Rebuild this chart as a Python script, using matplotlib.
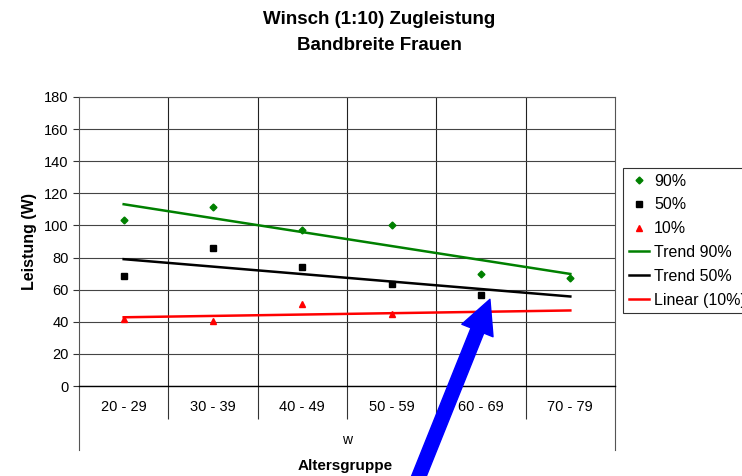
import numpy as np
import matplotlib.pyplot as plt

plt.rcParams['font.family'] = ['Liberation Sans', 'DejaVu Sans']

# data
groups = ['20 - 29', '30 - 39', '40 - 49', '50 - 59', '60 - 69', '70 - 79']
p90 = [103.5, 111.5, 97, 100, 70, 67]
p50 = [68.5, 86, 74, 63.5, 56.5]
p10 = [42, 40.5, 51, 45, 44]

W, H = 742, 476
fig = plt.figure(figsize=(W / 100, H / 100), dpi=100)
ax = fig.add_axes([79 / W, 1 - 386 / H, (615 - 79) / W, (386 - 97) / H])

x_all = np.arange(1, len(groups) + 1)

def trend(vals):
    xs = np.arange(1, len(vals) + 1)
    k, d = np.polyfit(xs, vals, 1)
    return k * x_all + d

ax.plot(np.arange(1, len(p90) + 1), p90, ls='none', marker='D', ms=3.5, color='#008000', label='90%')
ax.plot(np.arange(1, len(p50) + 1), p50, ls='none', marker='s', ms=4.5, color='black', label='50%')
ax.plot(np.arange(1, len(p10) + 1), p10, ls='none', marker='^', ms=5, color='red', label='10%')
ax.plot(x_all, trend(p90), color='#008000', lw=1.8, label='Trend 90%')
ax.plot(x_all, trend(p50), color='black', lw=1.8, label='Trend 50%')
ax.plot(x_all, trend(p10), color='red', lw=1.8, label='Linear (10%)')

ax.set_xlim(0.5, len(groups) + 0.5)
ax.set_ylim(0, 180)
ax.set_yticks(np.arange(0, 181, 20))
ax.set_xticks(x_all)
ax.set_xticklabels(groups)
ax.set_xticks(np.arange(1.5, len(groups)), minor=True)
ax.tick_params(axis='x', which='major', length=0, pad=10, labelsize=10.5)
ax.tick_params(axis='x', which='minor', length=24, width=0.8, color='#333333')
ax.tick_params(axis='y', length=4, width=0.8, labelsize=10.5, color='#333333')
ax.grid(True, axis='y', color='#444444', lw=0.8)
ax.grid(True, axis='x', which='minor', color='#222222', lw=0.8)
ax.set_axisbelow(True)
for s in ['left', 'right', 'top']:
    ax.spines[s].set_color('#555555')
    ax.spines[s].set_linewidth(0.8)
ax.spines['bottom'].set_color('black')
ax.spines['bottom'].set_linewidth(1.0)

# outer borders of the category table
ext = 64 / 289
for xa in (0, 1):
    ax.plot([xa, xa], [0, -ext], transform=ax.transAxes, color='#555555', lw=0.8, clip_on=False)

ax.set_ylabel('Leistung (W)', fontsize=11.5, fontweight='bold', labelpad=5)
fig.text(347 / W, 1 - 440 / H, 'w', ha='center', va='center', fontsize=10)
fig.text(345 / W, 1 - 466 / H, 'Altersgruppe', ha='center', va='center', fontsize=11, fontweight='bold')
fig.text(379 / W, 1 - 20 / H, 'Winsch (1:10) Zugleistung', ha='center', va='center', fontsize=13.5, fontweight='bold')
fig.text(379 / W, 1 - 46 / H, 'Bandbreite Frauen', ha='center', va='center', fontsize=13.5, fontweight='bold')

leg = ax.legend(loc='upper left', bbox_to_anchor=(623 / W, 1 - 168 / H), bbox_transform=fig.transFigure,
                frameon=True, fancybox=False, edgecolor='black', fontsize=11.5, handlelength=1.3,
                handletextpad=0.3, borderpad=0.35, labelspacing=0.55, borderaxespad=0)
leg.get_frame().set_linewidth(0.8)

# blue arrow pointing at the 60 - 69 group
ax.annotate('', xy=(5.1, 54), xycoords='data', xytext=(415, -10), textcoords='figure pixels',
            arrowprops=dict(arrowstyle='simple,head_length=1.1,head_width=1.1,tail_width=0.45',
                            mutation_scale=22, color='#0000FF', shrinkA=0, shrinkB=0),
            annotation_clip=False)

fig.savefig('out.png', dpi=100)
